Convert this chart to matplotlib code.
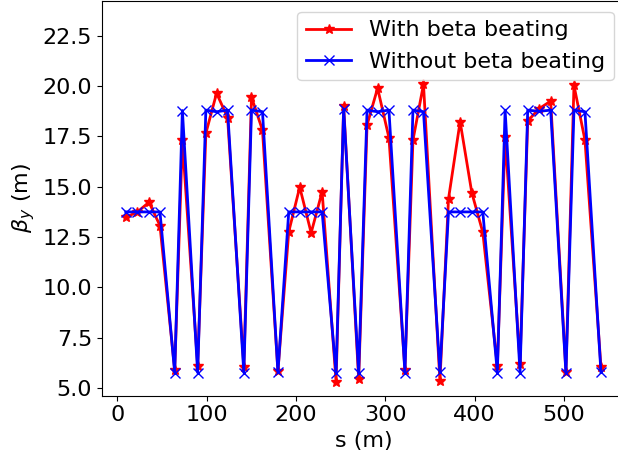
import matplotlib
matplotlib.use("Agg")
import matplotlib.pyplot as plt

s = [9.3, 22.4, 35.3, 47.6, 64.1, 72.7, 89.8, 99.0, 111.0, 123.3,
     141.5, 150.1, 162.4, 179.7, 191.8, 204.1, 216.9, 229.2, 244.8, 253.3,
     270.1, 279.5, 291.3, 304.0, 321.9, 330.9, 342.7, 361.1, 370.7, 383.7,
     396.8, 409.1, 425.4, 434.1, 450.8, 459.4, 472.1, 485.1, 502.2, 511.2,
     523.5, 541.4]

beta_with = [13.48, 13.75, 14.23, 13.07, 5.91, 17.30, 6.11, 17.65, 19.64, 18.43,
             6.07, 19.45, 17.80, 5.85, 12.76, 14.98, 12.71, 14.75, 5.33, 19.00,
             5.45, 18.06, 19.89, 17.43, 5.93, 17.31, 20.08, 5.35, 14.40, 18.23,
             14.70, 12.74, 6.11, 17.48, 6.21, 18.26, 18.87, 19.25, 5.83, 20.03,
             17.31, 6.07]

beta_without = [13.75, 13.75, 13.75, 13.75, 5.78, 18.78, 5.78, 18.80, 18.72, 18.80,
                5.78, 18.80, 18.72, 5.80, 13.75, 13.75, 13.75, 13.75, 5.75, 18.85,
                5.75, 18.80, 18.72, 18.80, 5.78, 18.80, 18.72, 5.80, 13.75, 13.75,
                13.75, 13.75, 5.78, 18.80, 5.78, 18.80, 18.74, 18.80, 5.75, 18.80,
                18.72, 5.80]

plt.rcParams['font.size'] = 16

fig = plt.figure(figsize=(6.18, 4.58), dpi=100)
ax = fig.add_axes([102/618, 62.3/458, (624.7-102)/618, (395.7-0.5)/458])

ax.plot(s, beta_with, '-', color='red', marker='*', lw=2, ms=7, label='With beta beating')
ax.plot(s, beta_without, '-', color='blue', marker='x', lw=2, ms=7, label='Without beta beating')

ax.set_ylim(4.63, 24.24)
ax.set_yticks([5.0, 7.5, 10.0, 12.5, 15.0, 17.5, 20.0, 22.5])
ax.set_xlabel('s (m)')
ax.set_ylabel(r'$\beta_y$ (m)')
ax.legend(loc='upper right')

fig.savefig('out.png', dpi=100)
